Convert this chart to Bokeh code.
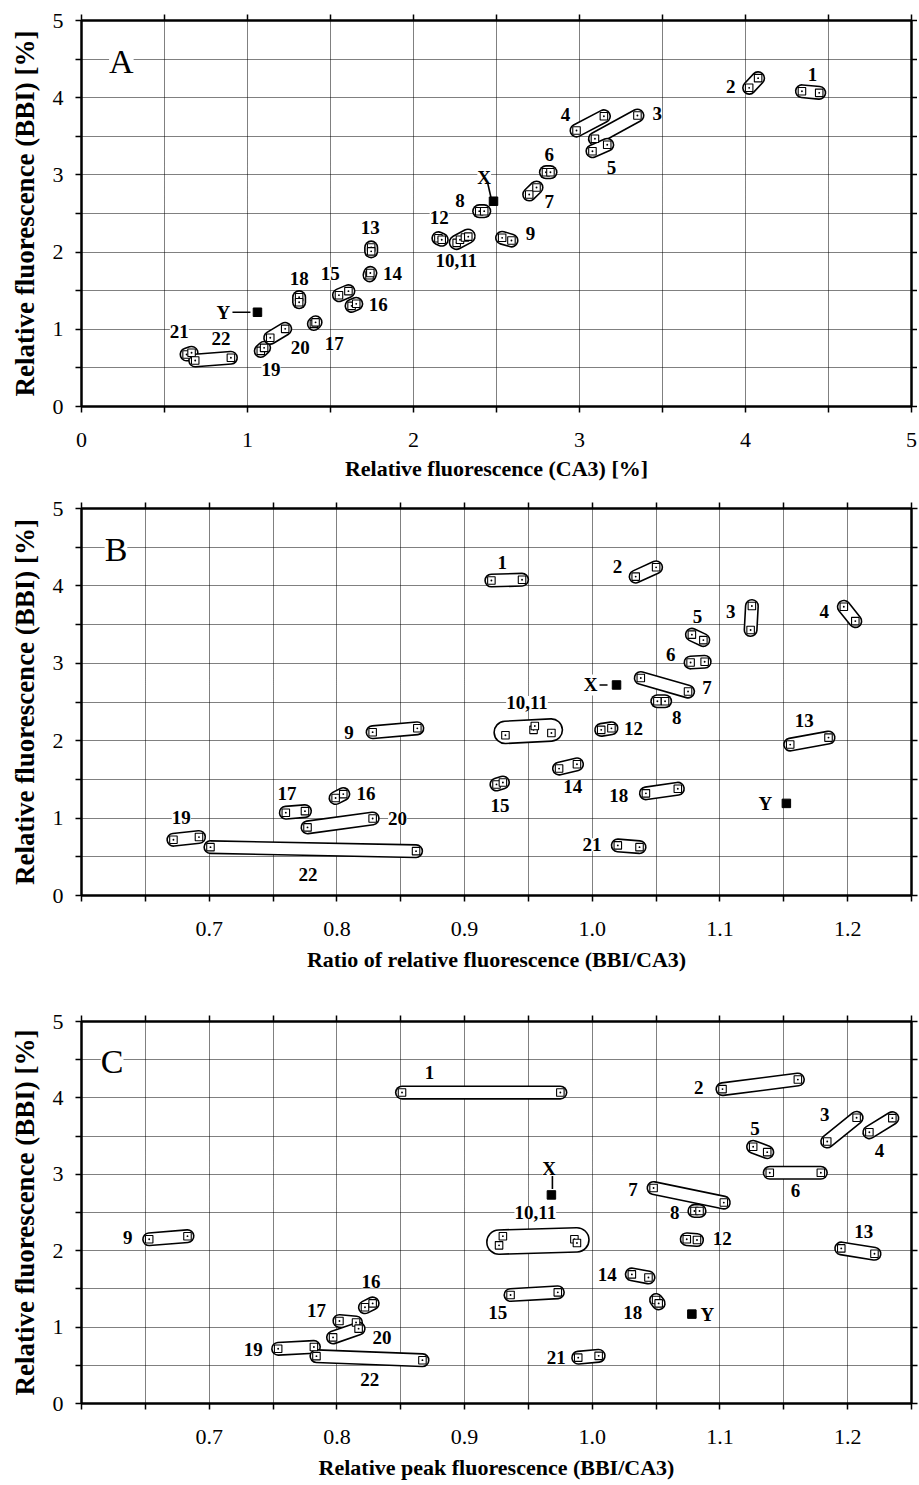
import numpy as np
from bokeh.plotting import figure
from bokeh.models import (FixedTicker, NumeralTickFormatter, LinearAxis, Range1d,
                          ColumnDataSource, LabelSet, Label, CustomJSTickFormatter)
from bokeh.layouts import column
from bokeh.embed import file_html
from bokeh.resources import INLINE

# ------------------------------------------------------------------ data
GROUPS = ["1", "2", "3", "4", "5", "6", "7", "8", "9", "10,11", "12", "13",
          "14", "15", "16", "17", "18", "19", "20", "21", "22"]

# Panel A: relative fluorescence CA3 [%] (x) vs BBI [%] (y), duplicate spots per sample
A_CA3 = [[4.340, 4.444], [4.022, 4.076], [3.093, 3.349], [2.982, 3.147], [3.078, 3.167],
         [2.798, 2.825], [2.697, 2.741], [2.396, 2.426], [2.534, 2.590],
         [2.26, 2.28, 2.31, 2.33], [2.15, 2.17], [1.745, 1.745], [1.735, 1.740],
         [1.551, 1.608], [1.627, 1.655], [1.40, 1.41], [1.311, 1.311], [1.08, 1.10],
         [1.137, 1.227], [0.633, 0.663], [0.685, 0.900]]
A_BBI = [[4.084, 4.063], [4.128, 4.253], [3.468, 3.769], [3.575, 3.760], [3.307, 3.390],
         [3.035, 3.035], [2.746, 2.837], [2.530, 2.530], [2.185, 2.150],
         [2.12, 2.16, 2.19, 2.20], [2.18, 2.16], [2.06, 2.01], [1.70, 1.73],
         [1.442, 1.494], [1.304, 1.330], [1.07, 1.09], [1.416, 1.351], [0.72, 0.76],
         [0.890, 1.006], [0.674, 0.696], [0.596, 0.631]]
A_REF_X = [2.482, 1.060]   # X, Y
A_REF_Y = [2.659, 1.221]

# Panel B: ratio of relative fluorescence (BBI/CA3) vs BBI [%]
B_RATIO = [[0.921, 0.945], [1.034, 1.050], [1.125, 1.124], [1.197, 1.206], [1.078, 1.087],
           [1.077, 1.088], [1.038, 1.075], [1.051, 1.057], [0.828, 0.863],
           [0.932, 0.954, 0.955, 0.968], [1.007, 1.015], [1.155, 1.185], [0.974, 0.988],
           [0.925, 0.930], [0.799, 0.805], [0.760, 0.775], [1.042, 1.067], [0.672, 0.692],
           [0.777, 0.828], [1.020, 1.037], [0.701, 0.862]]
B_BBI = [[4.07, 4.08], [4.12, 4.24], [3.74, 3.43], [3.73, 3.545], [3.37, 3.30],
         [3.01, 3.02], [2.81, 2.635], [2.51, 2.51], [2.11, 2.16],
         [2.07, 2.14, 2.19, 2.10], [2.14, 2.16], [1.95, 2.04], [1.64, 1.695],
         [1.435, 1.46], [1.26, 1.31], [1.07, 1.09], [1.32, 1.38], [0.72, 0.755],
         [0.88, 0.995], [0.647, 0.625], [0.625, 0.573]]
B_REF_X = [1.019, 1.152]
B_REF_Y = [2.72, 1.19]

# Panel C: relative peak fluorescence (BBI/CA3) vs BBI [%]
C_PEAK = [[0.851, 0.975], [1.102, 1.161], [1.184, 1.207], [1.217, 1.235], [1.126, 1.137],
          [1.139, 1.179], [1.048, 1.103], [1.080, 1.084], [0.653, 0.683],
          [0.927, 0.930, 0.986, 0.988], [1.074, 1.082], [1.195, 1.221], [1.031, 1.044],
          [0.936, 0.973], [0.822, 0.828], [0.802, 0.815], [1.050, 1.052], [0.754, 0.782],
          [0.797, 0.817], [0.989, 1.005], [0.784, 0.867]]
C_BBI = [[4.07, 4.07], [4.115, 4.24], [3.43, 3.74], [3.55, 3.735], [3.36, 3.29],
         [3.02, 3.02], [2.82, 2.63], [2.52, 2.52], [2.15, 2.19],
         [2.07, 2.19, 2.15, 2.10], [2.15, 2.14], [2.03, 1.96], [1.69, 1.65],
         [1.42, 1.455], [1.26, 1.31], [1.08, 1.06], [1.354, 1.31], [0.716, 0.74],
         [0.865, 0.98], [0.60, 0.624], [0.62, 0.567]]
C_REF_X = [0.968, 1.078]
C_REF_Y = [2.73, 1.17]

REF_NAMES = ["X", "Y"]

X_TITLES = ["Relative fluorescence (CA3) [%]",
            "Ratio of relative fluorescence (BBI/CA3)",
            "Relative peak fluorescence (BBI/CA3)"]
Y_TITLE = "Relative fluorescence (BBI) [%]"
PANEL_LETTERS = ["A", "B", "C"]

# ------------------------------------------------------------------ layout / style
# label offsets in screen pixels (dx right, dy up) from the centre of each sample group
A_OFF = {"1": (2, 17.5), "2": (-23, -3.5), "3": (41, 13.4), "4": (-24.7, 8.9), "5": (11.6, -19.2),
         "6": (1, 17.7), "7": (16.3, -10.2), "8": (-21.8, 11), "9": (23.6, 5.4),
         "10,11": (-6.2, -21.5), "12": (-0.9, 21.7), "13": (-1, 21.6), "14": (22.6, 0.3),
         "15": (-13.5, 19.4), "16": (24.3, 0.3), "17": (19.5, -20.7), "18": (0, 20.9),
         "19": (8.5, -20), "20": (22.5, -13.9), "21": (-9.7, 21.8), "22": (7.9, 20.2)}
B_OFF = {"1": (-4.5, 17.9), "2": (-28.4, 5.1), "3": (-20.5, 6.2), "4": (-25.4, 2), "5": (-0.2, 21.1),
         "6": (-26.9, 7.7), "7": (42.6, -2.8), "8": (15.5, -16.3), "9": (-45.9, -2.6),
         "10,11": (-4.3, 28.6), "12": (27.2, 0.6), "13": (-5.2, 21), "14": (4.8, -20.5),
         "15": (0.4, -22.5), "16": (26.5, 2.7), "17": (-8.5, 18.7), "18": (-43.2, -4),
         "19": (-4.9, 20.6), "20": (57.5, 4.5), "21": (-36.6, 1.6), "22": (-5.2, -25.3)}
C_OFF = {"1": (-51.6, 20), "2": (-61.5, -3.6), "3": (-17.2, 14.7), "4": (-1.4, -25.4), "5": (-5.2, 21.1),
         "6": (0.1, -18), "7": (-55.6, 5.5), "8": (-22.3, -1.4), "9": (-40.5, 0.4),
         "10,11": (-3, 28.4), "12": (30.3, 1.4), "13": (5.9, 19.7), "14": (-32.8, 1.7),
         "15": (-36.4, -19), "16": (2.1, 23.6), "17": (-31.2, 11.5), "18": (-24.7, -11),
         "19": (-42.7, -1.3), "20": (36.1, -4.5), "21": (-32.3, -1.2), "22": (0.4, -21.3)}
A_REF_OFF = [(-9.3, 24), (-34, 0)]
B_REF_OFF = [(-26, 0), (-21, 0)]
C_REF_OFF = [(-2.4, 26.7), (15.6, 0)]
A_CONN = [((-6, 19), (-2.6, 4)), ((-25, 0), (-7, 0))]
B_CONN = [((-17, 0), (-9, 0))]
C_CONN = [((1, 19), (1, 6))]

SERIF = "Liberation Serif"
FW = 830


def build(idx, xs, ys, refx, refy, xr, frame_h, xticks, xminor, xfmt, offs, ref_offs, conns,
          letter_xy, border_top, left, title_standoff):
    yr = (0, 5)
    p = figure(frame_width=FW, frame_height=frame_h, x_range=Range1d(*xr), y_range=Range1d(*yr),
               output_backend="svg", toolbar_location=None,
               min_border_left=left, min_border_right=10, min_border_top=border_top,
               min_border_bottom=40,
               background_fill_color="white", border_fill_color="white")
    kx = FW / (xr[1] - xr[0])
    ky = frame_h / (yr[1] - yr[0])

    # grid
    gx = [round(v, 3) for v in list(xticks) + list(xminor)]
    gy = [i * 0.5 for i in range(1, 10)]
    p.xgrid.ticker = FixedTicker(ticks=gx)
    p.ygrid.ticker = FixedTicker(ticks=gy)
    for g in (p.xgrid, p.ygrid):
        g.grid_line_color = "black"
        g.grid_line_dash = "1 1"
        g.grid_line_width = 1
    p.outline_line_color = "black"
    p.outline_line_width = 2

    yt = [0, 1, 2, 3, 4, 5]
    ym = [0.5, 1.5, 2.5, 3.5, 4.5]

    def style(ax):
        ax.axis_line_width = 2
        ax.axis_line_color = "black"
        ax.major_tick_out = 6
        ax.minor_tick_out = 6
        ax.major_tick_in = 0
        ax.minor_tick_in = 0
        ax.major_tick_line_width = 1.5
        ax.minor_tick_line_width = 1.5
        ax.major_tick_line_color = "black"
        ax.minor_tick_line_color = "black"
        ax.major_label_text_font = SERIF
        ax.major_label_text_font_size = "22px"
        ax.major_label_text_color = "black"
        ax.axis_label_text_font = SERIF
        ax.axis_label_text_font_size = "22px"
        ax.axis_label_text_font_style = "bold"
        ax.axis_label_text_color = "black"

    xa = p.xaxis[0]
    xa.ticker = FixedTicker(ticks=list(xticks), minor_ticks=list(xminor))
    xa.formatter = NumeralTickFormatter(format=xfmt)
    xa.axis_label = X_TITLES[idx]
    style(xa)
    xa.major_label_standoff = 20
    xa.axis_label_standoff = title_standoff
    ya = p.yaxis[0]
    ya.ticker = FixedTicker(ticks=yt, minor_ticks=ym)
    ya.formatter = NumeralTickFormatter(format="0")
    ya.axis_label = Y_TITLE
    style(ya)
    ya.axis_label_text_font_size = "27px"
    ya.major_label_standoff = 12
    ya.axis_label_standoff = 10

    blank = "return ''"
    top = LinearAxis(ticker=FixedTicker(ticks=list(xticks), minor_ticks=list(xminor)),
                     formatter=CustomJSTickFormatter(code=blank))
    right = LinearAxis(ticker=FixedTicker(ticks=yt, minor_ticks=ym),
                       formatter=CustomJSTickFormatter(code=blank))
    for ax in (top, right):
        style(ax)
        ax.major_label_standoff = 0
        ax.major_label_text_font_size = "1px"
    p.add_layout(top, "above")
    p.add_layout(right, "right")

    # panel letter
    p.add_layout(Label(x=letter_xy[0], y=letter_xy[1], text=PANEL_LETTERS[idx],
                       text_font=SERIF, text_font_size="34px", text_align="center",
                       text_baseline="middle", text_color="black",
                       background_fill_color="white", padding=(0, 14), level="underlay"))

    # capsules around duplicate spots
    lab_x, lab_y, lab_t = [], [], []
    for name, gxs, gys in zip(GROUPS, xs, ys):
        P = np.column_stack([np.array(gxs) * kx, np.array(gys) * ky])
        m = P.mean(axis=0)
        order = np.argsort(P[:, 0])
        d = P[order[-1]] - P[order[0]]
        n = np.hypot(*d)
        d = d / n if n > 0 else np.array([1.0, 0.0])
        t = (P - m) @ d
        perp = np.abs((P - m) @ np.array([-d[1], d[0]]))
        e0 = m + t.min() * d
        e1 = m + t.max() * d
        w = 11 + 2 * perp.max()
        cx = [e0[0] / kx, e1[0] / kx]
        cy = [e0[1] / ky, e1[1] / ky]
        p.line(cx, cy, line_width=w + 3.2, line_color="black", line_cap="round")
        p.line(cx, cy, line_width=w, line_color="white", line_cap="round")
        dx, dy = offs[name]
        lab_x.append((m[0] + dx) / kx)
        lab_y.append((m[1] + dy) / ky)
        lab_t.append(name)

    allx = [v for g in xs for v in g]
    ally = [v for g in ys for v in g]
    p.scatter(allx, ally, marker="square_dot", size=7.5, fill_color="white",
              line_color="black", line_width=1.1)
    p.scatter(refx, refy, marker="square", size=8.5, fill_color="black", line_color="black")

    for (rx, ry), (dx, dy) in zip(zip(refx, refy), ref_offs):
        lab_x.append(rx + dx / kx)
        lab_y.append(ry + dy / ky)
    lab_t += REF_NAMES
    for k, ((x0, y0), (x1, y1)) in enumerate(conns):
        rx, ry = refx[k], refy[k]
        p.line([rx + x0 / kx, rx + x1 / kx], [ry + y0 / ky, ry + y1 / ky],
               line_color="black", line_width=1.6)

    src = ColumnDataSource(dict(x=lab_x, y=lab_y, t=lab_t))
    p.add_layout(LabelSet(x="x", y="y", text="t", source=src, text_font=SERIF,
                          text_font_size="19px", text_font_style="bold", text_color="black",
                          text_align="center", text_baseline="middle",
                          background_fill_color="white", level="underlay"))
    return p


xt_a = [0, 1, 2, 3, 4, 5]
xm_a = [0.5, 1.5, 2.5, 3.5, 4.5]
xt_b = [0.7, 0.8, 0.9, 1.0, 1.1, 1.2]
xm_b = [0.6, 0.65, 0.75, 0.85, 0.95, 1.05, 1.15, 1.25]

pa = build(0, A_CA3, A_BBI, A_REF_X, A_REF_Y, (0, 5), 386, xt_a, xm_a, "0", A_OFF, A_REF_OFF,
           A_CONN, (0.24, 4.47), 20, 77, 6)
pb = build(1, B_RATIO, B_BBI, B_REF_X, B_REF_Y, (0.6, 1.25), 387, xt_b, xm_b, "0.0", B_OFF,
           B_REF_OFF, B_CONN, (0.627, 4.47), 25, 81, 8)
pc = build(2, C_PEAK, C_BBI, C_REF_X, C_REF_Y, (0.6, 1.25), 382, xt_b, xm_b, "0.0", C_OFF,
           C_REF_OFF, C_CONN, (0.624, 4.48), 47, 80, 8)

layout = column(pa, pb, pc, spacing=0)
open("out.html", "w").write(file_html(layout, INLINE))
